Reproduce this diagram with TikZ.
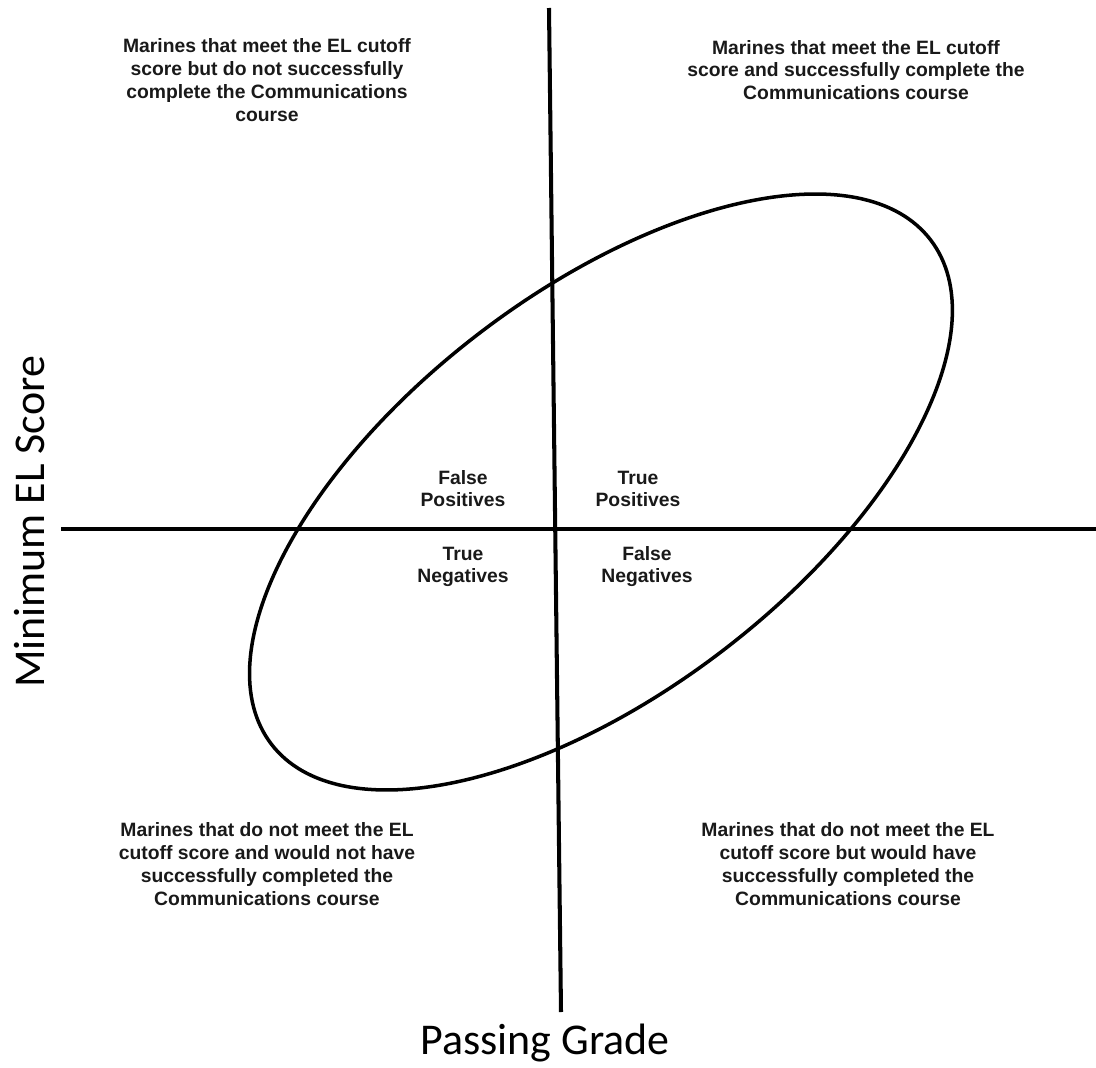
\documentclass[tikz,border=0pt]{standalone}
\usepackage{fontspec}
\setmainfont{Liberation Sans}
\newfontfamily\axisfont{Carlito}
\begin{document}
\begin{tikzpicture}[x=0.02cm,y=-0.02cm,
  axisline/.style={line width=2.3pt},
  quadtext/.style={font=\fontsize{11}{13}\selectfont\bfseries, align=center, inner sep=0pt, text=black!90},
  celltext/.style={font=\fontsize{11}{12.5}\selectfont\bfseries, align=center, inner sep=0pt, text=black!90},
  axislabel/.style={font=\fontsize{25}{30}\selectfont\axisfont, inner sep=0pt}]
\useasboundingbox (0,0) rectangle (1096,1068);
% axes
\coordinate (vt) at (549,8);
\coordinate (vb) at (561,1012);
\coordinate (hl) at (61,529);
\coordinate (hr) at (1096,529);
\draw[axisline] (vt) -- (vb);
\draw[axisline] (hl) -- (hr);
% ellipse
\coordinate (ec) at (601,492);
\draw[line width=2pt, rotate around={37.4:(ec)}] (ec) ellipse [x radius=415, y radius=200];
% quadrant texts
\node[quadtext] (tl) at (267,80) {Marines that meet the EL cutoff\\score but do not successfully\\complete the Communications\\course};
\node[quadtext] (tr) at (856,70) {Marines that meet the EL cutoff\\score and successfully complete the\\Communications course};
\node[quadtext] (bl) at (267,864) {Marines that do not meet the EL\\cutoff score and would not have\\successfully completed the\\Communications course};
\node[quadtext] (br) at (848,864) {Marines that do not meet the EL\\cutoff score but would have\\successfully completed the\\Communications course};
% cell labels
\node[celltext] (fp) at (463,489) {False\\Positives};
\node[celltext] (tp) at (638,489) {True\\Positives};
\node[celltext] (tn) at (463,567) {True\\Negatives};
\node[celltext] (fn) at (647,567) {False\\Negatives};
% axis labels
\node[axislabel, rotate=90] (ylab) at (30,522) {Minimum EL Score};
\node[axislabel] (xlab) at (545,1043) {Passing Grade};
\end{tikzpicture}
\end{document}
